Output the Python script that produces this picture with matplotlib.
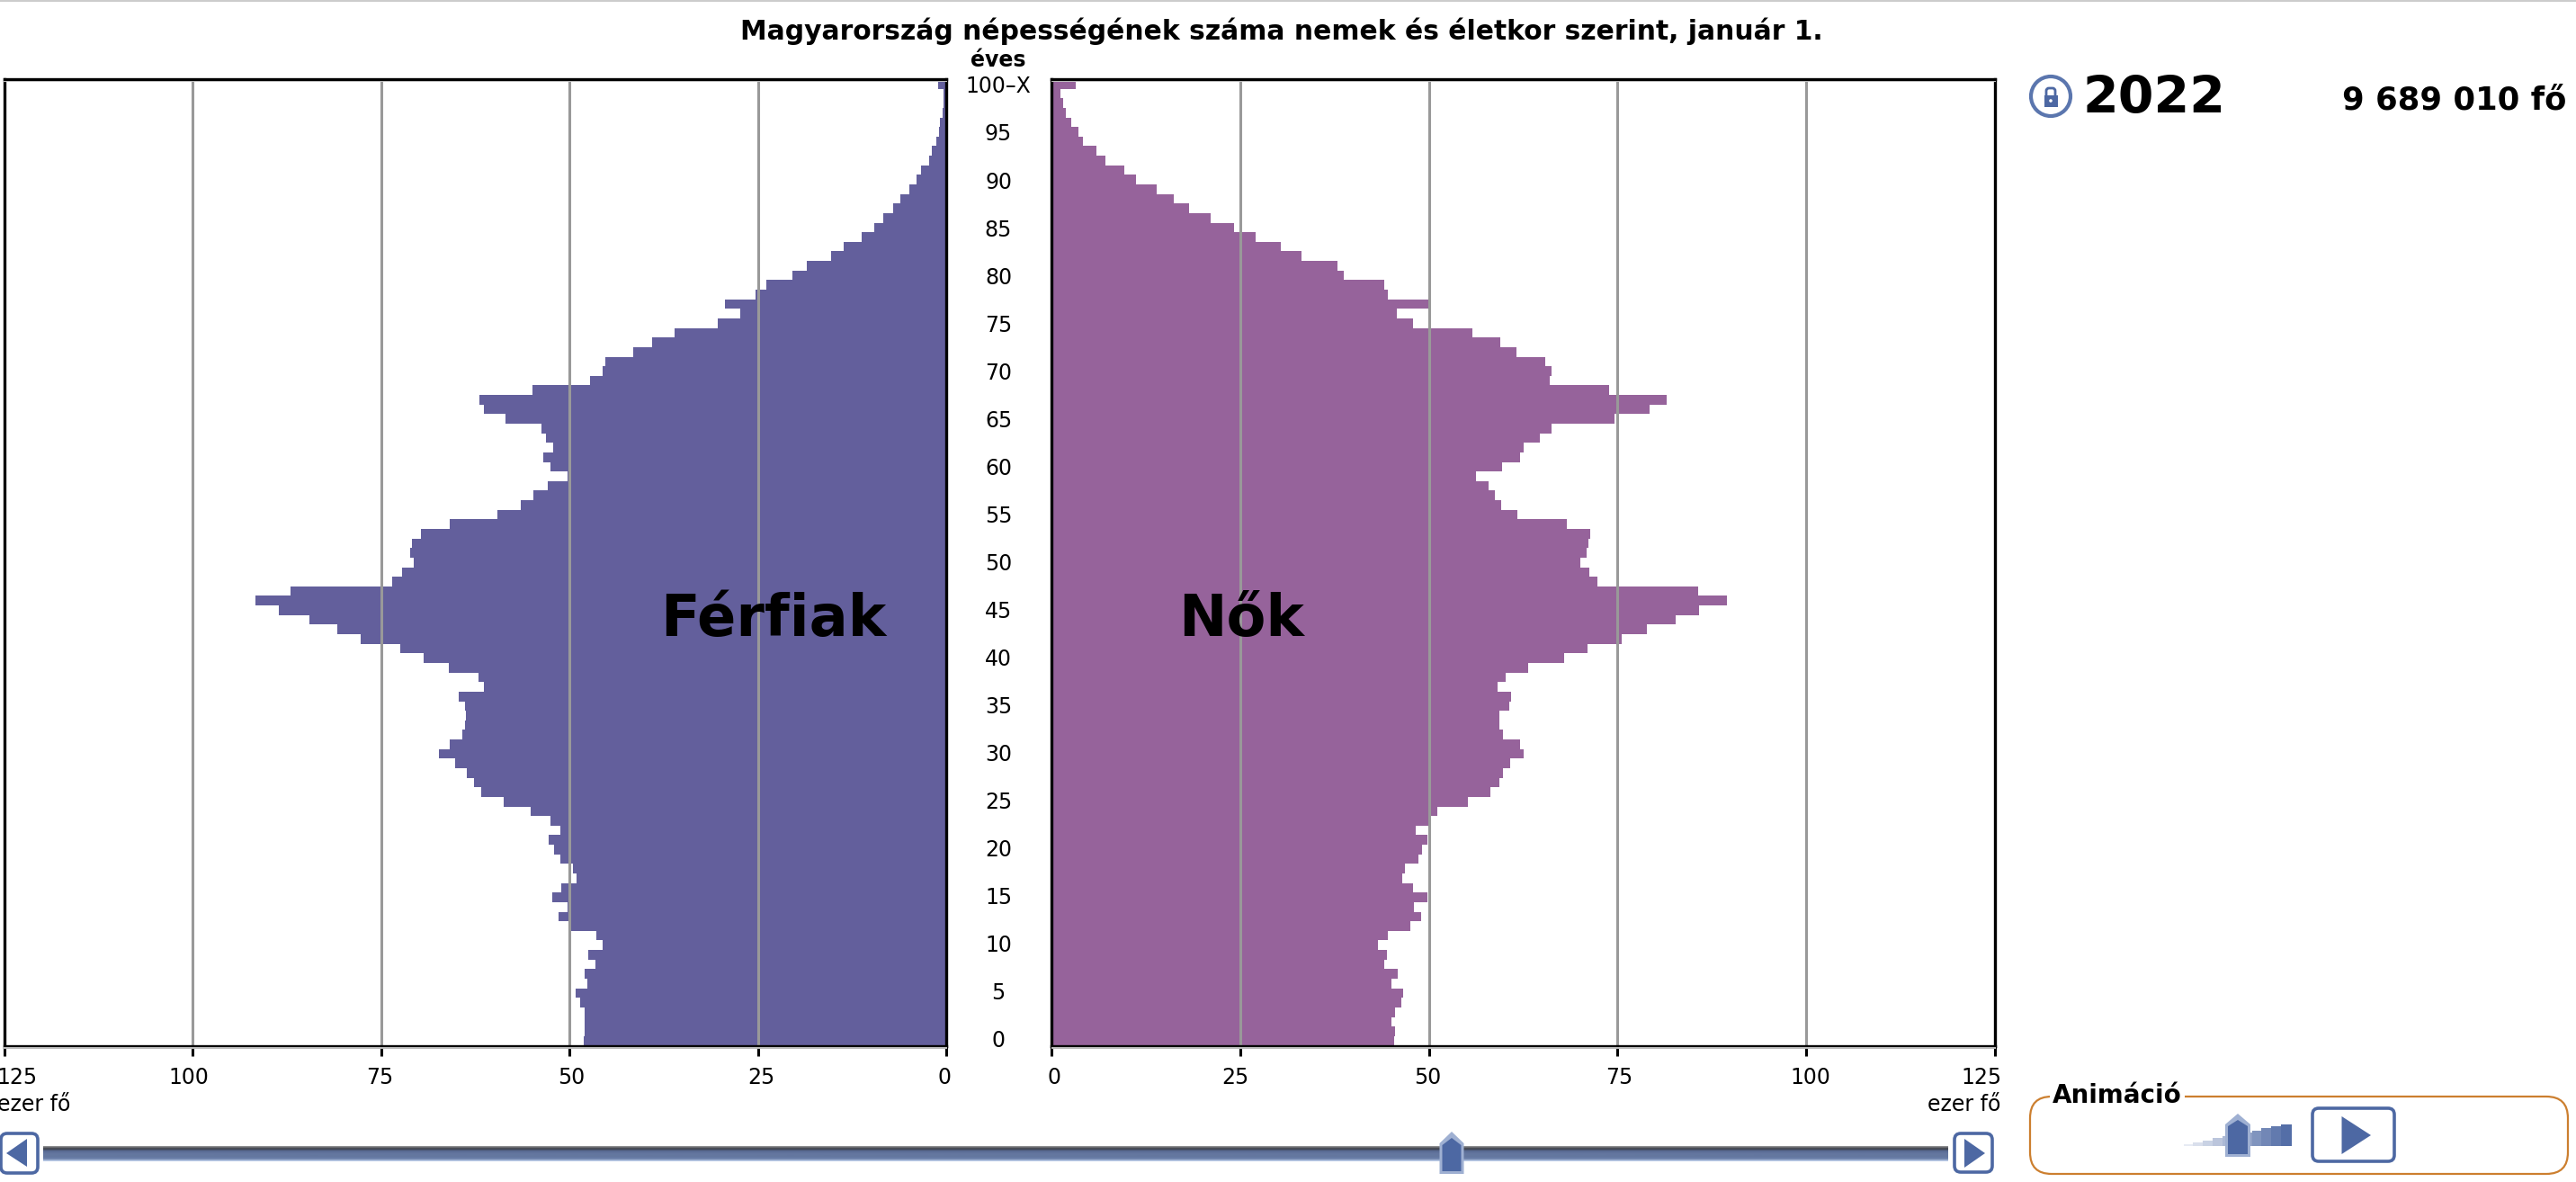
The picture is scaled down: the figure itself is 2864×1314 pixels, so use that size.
import numpy as np
import matplotlib
matplotlib.use("Agg")
import matplotlib.pyplot as plt
from matplotlib.patches import Rectangle, Polygon, FancyBboxPatch, Circle
from matplotlib.colors import LinearSegmentedColormap
from matplotlib.transforms import ScaledTranslation

W, H = 2864, 1314
DPI = 100

TITLE = "Magyarország népességének száma nemek és életkor szerint, január 1."
YEAR = "2022"
TOTAL = "9 689 010 fő"
ages = list(range(101))
male = [48.1,48,48,48,48.6,49.2,47.6,48,46.5,47.5,
        45.6,46.4,49.8,51.4,50.3,52.3,51.1,49.1,49.5,51.2,
        52,52.7,51.2,52.5,55.1,58.7,61.7,62.7,63.6,65.2,
        67.3,65.9,64.2,63.9,63.7,63.9,64.7,61.3,62,66,
        69.3,72.5,77.7,80.8,84.5,88.6,91.6,87,73.5,72.2,
        70.7,71.1,70.9,69.7,65.9,59.5,56.5,54.8,52.9,50.3,
        52.5,53.5,52.2,53.05,53.7,58.5,61.4,61.9,54.9,47.3,
        45.6,45.2,41.5,39,36.1,30.3,27.3,29.3,25.3,23.9,
        20.4,18.5,15.25,13.6,11.2,9.5,8.4,7.1,6.1,4.9,
        3.9,3.4,2.3,1.85,1.3,1,.8,.5,.4,.3,1.1]
female = [45.4,45.5,45.1,45.5,46.3,46.6,45.1,45.9,44.1,44.45,
          43.2,44.6,47.6,49,48,49.85,47.9,46.5,46.8,48.6,
          49.1,49.85,48.25,50.15,51.1,55.2,58.1,59.3,59.8,60.8,
          62.5,62.1,59.8,59.3,59.3,60.6,60.9,59.1,60.2,63.1,
          67.9,71.05,75.5,78.9,82.7,85.8,89.5,85.7,72.3,71.3,
          70.06,70.9,71.1,71.35,68.3,61.7,59.6,58.7,57.9,56.2,
          59.7,62.1,62.5,64.7,66.3,74.6,79.25,81.5,73.9,66,
          66.3,65.4,61.6,59.5,55.8,47.9,45.7,49.9,44.6,44.1,
          38.75,37.9,33.1,30.4,27,24.2,21.1,18.24,16.26,14,
          11.25,9.65,7.14,5.93,4.18,3.57,2.66,1.9,1.6,1.2,3.27]
x_ticks = [0, 25, 50, 75, 100, 125]
x_labels = ["0", "25", "50", "75", "100", "125"]
age_ticks = list(range(0, 101, 5))
age_labels = [str(a) for a in range(0, 100, 5)] + ["100–X"]

MALE_C, FEMALE_C = "#635F9C", "#96639B"
GRID = "#999999"
BLUE = "#4D68A3"
FS = 17

fig = plt.figure(figsize=(W / DPI, H / DPI), dpi=DPI, facecolor="white")


def px_axes(x0, x1, y0, y1, **kw):
    return fig.add_axes([x0 / W, 1 - y1 / H, (x1 - x0) / W, (y1 - y0) / H], **kw)


TOP, BOT = 88, 1162.5
ax_m = px_axes(4.6, 1052, TOP, BOT)
ax_f = px_axes(1169, 2218, TOP, BOT)


def offset(lbl, dx, dy=0):
    lbl.set_transform(lbl.get_transform() + ScaledTranslation(dx / DPI, -dy / DPI, fig.dpi_scale_trans))


for ax, vals, col, offs in ((ax_m, male, MALE_C, [-2, 4, 2, -1, -4.7, 14]),
                            (ax_f, female, FEMALE_C, [3, -5, -1.5, 2, 5, -15])):
    ax.barh(ages, vals, height=1.0, color=col, linewidth=0, zorder=2)
    ax.set_ylim(-0.5, 100.5)
    ax.set_xlim(0, 125)
    for t in x_ticks[1:-1]:
        ax.axvline(t, color=GRID, lw=2.2, zorder=3)
    ax.set_xticks(x_ticks)
    ax.set_xticklabels(x_labels, fontsize=FS)
    ax.tick_params(axis="x", length=8, width=2.2, pad=9)
    for tk, dx in zip(ax.xaxis.get_major_ticks(), offs):
        tk.tick1line.set_color("black" if tk.get_loc() in (0, 125) else GRID)
        offset(tk.label1, dx)
    ax.set_yticks([])
    for s in ax.spines.values():
        s.set_visible(True)
        s.set_color("black")
        s.set_linewidth(2.4)
        s.set_zorder(5)
ax_m.invert_xaxis()
ax_f.spines["left"].set_zorder(6)

ax_m.yaxis.tick_right()
ax_m.set_yticks(age_ticks)
ax_m.set_yticklabels(age_labels, fontsize=FS, ha="center")
ax_m.tick_params(axis="y", length=0, pad=41.8)
for tk, a in zip(ax_m.yaxis.get_major_ticks(), age_ticks):
    offset(tk.label2, 0, -2.4 + a * 0.03)

fig.suptitle(TITLE, x=1424.5 / W, y=1 - 44 / H, ha="center", va="baseline",
             fontsize=21.4, fontweight="bold")

# overlay in pixel coordinates for annotations and the page's controls
ov = fig.add_axes([0, 0, 1, 1], zorder=10)
ov.patch.set_alpha(0)
ov.axis("off")

ov.add_patch(Rectangle((0, 0), W, 2, color="#CCCCCC", lw=0))
for y in (TOP + 2, BOT + 2):
    ov.add_patch(Rectangle((3, y - 0.5), 1050, 1.5, color="#BBBBBB", lw=0))
    ov.add_patch(Rectangle((1169, y - 0.5), 1050, 1.5, color="#BBBBBB", lw=0))

ov.text(1110, 67, "éves", fontsize=FS, fontweight="bold", ha="center", va="center")
ov.text(860, 707, "Férfiak", fontsize=46, fontweight="bold", ha="center", va="baseline")
ov.text(1380, 707, "Nők", fontsize=46, fontweight="bold", ha="center", va="baseline")
ov.text(78, 1228, "ezer fő", fontsize=FS, ha="right", va="center")
ov.text(2224, 1228, "ezer fő", fontsize=FS, ha="right", va="center")
ov.text(2316, 126, YEAR, fontsize=41, fontweight="bold", ha="left", va="baseline")
ov.text(2853, 122, TOTAL, fontsize=25.5, fontweight="bold", ha="right", va="baseline")

# lock icon
ov.add_patch(Circle((2280, 107), 22, fc="white", ec="#5B76AE", lw=3))
ov.add_patch(Rectangle((2272.5, 106), 15, 13, fc=BLUE, ec="none"))
ov.add_patch(FancyBboxPatch((2275, 98), 10, 12, boxstyle="round,pad=0,rounding_size=3",
                            fc="none", ec=BLUE, lw=2))
ov.add_patch(Circle((2280, 112), 1.8, fc="white", ec="none"))


def button(x0, x1, y0, y1, tri):
    ov.add_patch(FancyBboxPatch((x0 + 2, y0 + 2), x1 - x0 - 4, y1 - y0 - 4,
                                boxstyle="round,pad=0,rounding_size=7",
                                fc="white", ec=BLUE, lw=2.6))
    ov.add_patch(Polygon(tri, closed=True, fc=BLUE, ec="none"))


def thumb(x0, x1, y0, ys, y1):
    xc = (x0 + x1) / 2
    pts = [(x0, y1), (x0, ys), (xc, y0), (x1, ys), (x1, y1)]
    ov.add_patch(Polygon(pts, closed=True, fc="#9FB0D2", ec="none"))
    inner = [(x0 + 3, y1 - 3), (x0 + 3, ys + 2), (xc, y0 + 7), (x1 - 3, ys + 2), (x1 - 3, y1 - 3)]
    ov.add_patch(Polygon(inner, closed=True, fc=BLUE, ec="none"))


track = LinearSegmentedColormap.from_list("t", ["#9a9a9a", "#3c3f48", "#5a6c96", "#64779F", "#64779F", "#6a7fa9", "#C9D9F2"])
ov.imshow(np.linspace(0, 1, 64).reshape(-1, 1), cmap=track, extent=(48, 2166, 1291, 1274), aspect="auto", zorder=1)
button(-1, 44, 1258, 1306, [(7, 1282), (30, 1266), (30, 1297)])
button(2171, 2217, 1258, 1305, [(2184, 1266), (2207, 1282), (2184, 1298)])
thumb(1600.5, 1627.5, 1258, 1271, 1305)

# animation panel
ov.add_patch(FancyBboxPatch((2257, 1219), 598, 86, boxstyle="round,pad=0,rounding_size=24",
                            fc="none", ec="#CC7F2F", lw=1.6))
ov.text(2354, 1218, "Animáció", fontsize=20, fontweight="bold", ha="center", va="center",
        bbox=dict(fc="white", ec="none", pad=2.5), zorder=4)
speed = LinearSegmentedColormap.from_list("s", ["#EEF1F7", BLUE])
n_steps = 11
for i in range(n_steps):
    x0 = 2427.5 + i * (2547 - 2427.5) / n_steps
    top = 1272 - i * 2.2
    ov.add_patch(Rectangle((x0, top), (2547 - 2427.5) / n_steps + 1, 1274 - top,
                           fc=speed((i + 0.5) / n_steps), ec="none"))
thumb(2474, 2502, 1238, 1250, 1286)
button(2569, 2664, 1230, 1293, [(2603.5, 1241), (2636, 1262), (2603.5, 1283)])

ov.set_xlim(0, W)
ov.set_ylim(H, 0)

fig.savefig("out.png", dpi=DPI)
